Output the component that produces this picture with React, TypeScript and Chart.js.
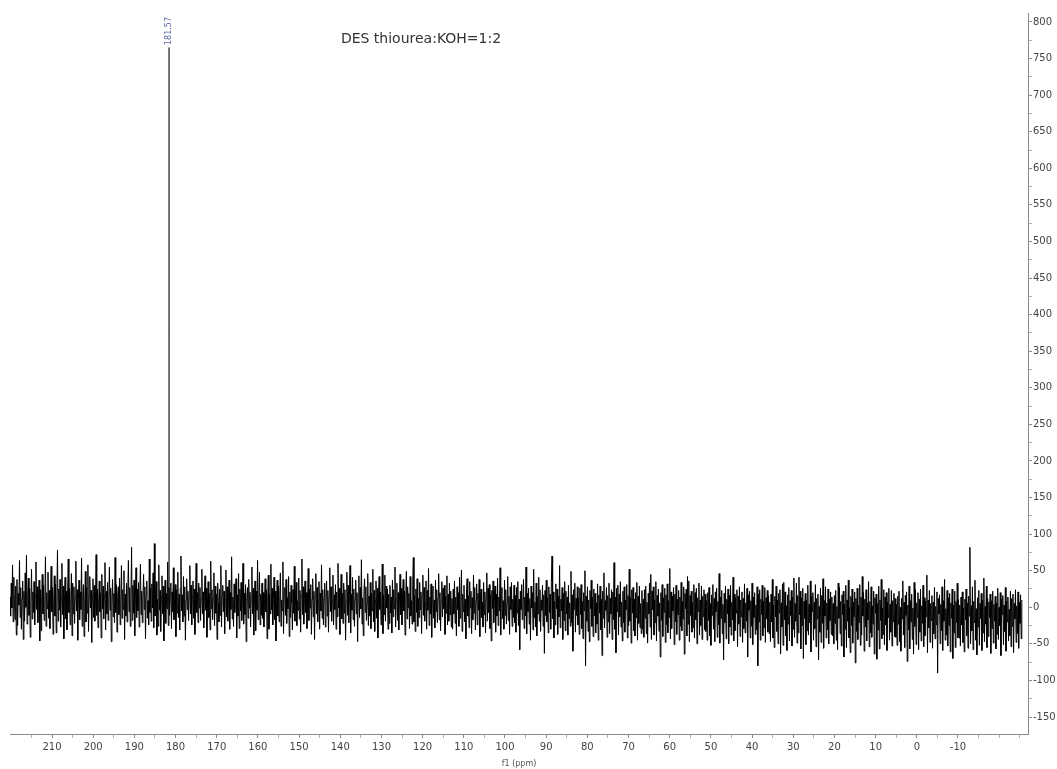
import React, { useEffect, useRef } from "react";
import { Chart, registerables } from "chart.js";

Chart.register(...registerables);

const s1 = [14,-12,33,-1,58,-20,41,6,-17,29,-38,38,-25,19,3,64,-14,27,-30,12,36,-44,22,-19,47,0,71,-23,16,40,-11,26,-41,9,52,-16,21,-7,35,-24,18,62,-3,28,-21,11,37,-46,24,-32,15,45,-9,30,-18,7,69,-26,20,-2,48,-15,23,-29,13,56,-6,27,-37,10,43,-12,32,-35,17,78,-19,25,-4,38,-27,14,60,-10,29,-43,8,41,-16,22,-31,19,66,-7,26,-24,12,46,-39,33];
const s2 = [-9,28,-22,15,63,-5,24,-45,11,37,-17,21,-3,67,-26,18,31,-40,6,49,-20,27,-8,58,-33,14,42,-1,23,-48,16,39,-14,30,-19,9,72,-11,25,-28,12,36,-6,20,-42,45,-2,29,-16,17,61,-31,22,-9,34,-18,13,55,-4,26,-47,10,38,-13,19,-21,68,-7,31,-34,15,28,-10,40,-24,8,57,-15,24,-3,50,-44,18,-12,33,-20,21,64,-6,27,-26,14,82,-18,30,-8,37,-39,11,54];
const s3 = [-14,25,-5,34,-27,18,59,-10,22,-21,13,45,-3,28,-43,16,36,-15,9,-24,66,-7,26,-19,32,-1,47,-28,87,-12,20,35,-38,11,-26,58,-4,23,-33,14,43,-9,29,-46,8,37,-22,19,-2,62,-25,27,-11,15,33,-29,21,-6,54,-17,12,31,-40,24,-8,48,-14,18,-31,26,70,-5,17,-20,42,-12,28,-45,10,39,-3,22,-18,14,57,-9,30,-24,16,36,-15,25,-37,11,60,-7,20,-21,33,-1];
const s4 = [27,-18,12,52,-9,21,-28,15,43,-4,26,-41,10,35,-14,19,-31,63,-2,24,-17,13,47,-25,29,-8,18,-44,33,6,-20,25,-11,57,-27,16,30,-6,22,-36,11,51,-13,28,-19,9,37,-30,20,-3,69,-16,14,-26,32,-7,23,39,-42,17,-12,46,-29,25,-5,34,-18,8,60,-23,19,-10,31,-47,13,27,-15,38,-1,21,-27,15,55,-9,26,-38,10,36,-32,22,-4,64,-17,12,48,-24,18,-11];
const s5 = [33,-15,20,-27,11,39,-6,24,-43,14,44,-30,18,-9,59,-3,26,-24,12,41,-17,22,-46,8,37,-12,29,-20,16,47,-26,10,-5,62,-36,19,27,-11,38,-22,13,-2,42,-40,21,-14,30,6,-31,24,-8,56,-19,15,34,-25,9,-4,40,-16,23,-34,17,66,-10,28,-23,12,36,-7,20,-29,14,53,-18,25,-1,31,-37,11,39,-13,22,-44,16,46,-9,27,-20,8,35,-30,19,-5,58,-15,24,-24,13,33];
const s6 = [-27,10,36,-12,23,-34,15,54,-6,28,-19,8,44,-24,17,-3,31,-30,21,-13,60,-1,26,-37,12,45,-16,19,-22,33,-8,24,-45,9,48,-11,30,-21,14,57,-35,18,-4,41,-17,25,-26,11,37,-9,20,-47,16,43,-14,27,-2,65,-23,13,-39,22,39,-7,28,-18,6,46,-25,15,-12,34,-29,19,-5,52,-20,23,-33,10,36,-15,26,-42,14,42,-3,21,-24,8,59,-36,17,-10,44,-19,29,-1,25,-30];
const s7 = [18,-22,30,-8,14,-35,37,-13,24,-2,55,-27,11,33,-18,20,-31,7,45,-10,26,-24,15,38,-5,22,-38,13,49,-16,28,-1,19,-29,42,-12,9,-23,31,68,-20,16,-33,25,-7,39,-26,12,-14,34,-3,21,-36,17,44,-11,27,-19,6,36,-30,23,-4,53,-25,14,-9,32,-41,19,29,-15,10,-28,37,-6,24,-21,13,46,-17,20,-32,8,35,-13,26,-2,30,-37,15,-8,43,-24,18,-19,33,-10,22,-27];
const s8 = [12,-30,25,-9,36,-22,14,-39,28,-3,20,-26,41,-15,8,51,-33,18,-6,30,-20,11,-43,24,39,-12,16,-28,35,-1,22,-36,13,-17,44,-8,27,-31,9,32,-24,19,-4,38,-40,15,25,-14,7,-27,34,-10,21,-35,12,47,-19,26,-7,31,-29,17,-46,23,-2,36,-21,10,29,-34,18,-12,40,-25,14,-5,54,-38,20,27,-16,9,-30,37,-11,24,-23,6,42,-18,15,-37,28,-3,34,-26,11,-14,30];
const s9 = [-21,16,-34,27,-8,35,-25,11,-58,22,-3,31,-17,9,38,-29,14,-12,55,-36,19,-6,26,-23,12,-45,29,-1,20,-31,52,-14,7,-27,33,-39,15,-9,41,-19,24,-33,10,-4,30,-26,17,-63,23,-11,37,-20,13,-35,28,-7,18,-30,34,70,-16,21,-42,8,-24,32,-2,25,-37,15,-13,57,-28,11,-5,27,-44,19,-18,35,-32,22,-9,14,-38,30,-15,6,-26,49,-21,17,-60,24,-3,33,-34,12,-11,28];
const s10 = [-24,13,-37,26,-10,31,-29,8,-43,20,-5,50,-80,15,-19,28,-33,10,-47,23,-2,37,-26,14,-40,25,-12,19,-35,6,-23,32,-45,17,-8,29,-31,11,-66,22,-15,47,-28,9,-4,27,-41,16,-20,33,-36,12,-9,24,-44,21,-17,61,-30,14,-62,26,-6,30,-38,18,-13,35,-27,7,-46,22,-21,28,-34,10,-3,31,-42,16,-25,52,-19,13,-49,24,-8,27,-32,11,-39,20,-14,34,-45,15,-22,29,-28,5,-36,23];
const s11 = [-30,11,-41,24,-15,29,-36,7,-49,19,-9,33,-27,45,-44,22,-3,28,-38,10,-21,35,-46,16,-12,25,-33,6,-68,20,-18,31,-40,13,-7,26,-48,17,-24,32,-35,9,-14,53,-43,21,-29,15,-5,27,-51,18,-20,30,-37,11,-10,23,-45,14,-26,34,-32,8,-16,28,-64,19,-2,25,-39,42,-23,36,-47,16,-11,22,-34,7,-28,31,-42,20,-17,26,-50,13,-6,33,-38,10,-25,29,-44,15,-13,24,-31,18];
const s12 = [-33,9,-45,20,-18,27,-39,5,-52,17,-11,31,-30,12,-47,21,-6,26,-41,8,-24,46,-49,14,-15,23,-36,4,-72,19,-21,29,-43,11,-9,25,-50,16,-27,30,-38,7,-17,41,-46,18,-32,13,-8,24,-54,15,-23,28,-40,10,-13,21,-48,12,-29,32,-35,6,-19,26,-68,17,-4,22,-42,9,-26,33,-51,14,-14,20,-37,3,-31,28,-80,18,-20,24,-45,11,-10,30,-39,8,-28,27,-48,13,-16,23,-34,16];
const s13 = [-36,7,-47,18,-20,38,-42,3,-55,15,-13,29,-33,10,-50,19,-8,24,-64,6,-27,32,-52,34,-17,21,-39,2,-59,17,-23,27,-46,9,-11,23,-53,14,-30,40,-41,5,-19,33,-49,16,-35,41,-10,22,-57,13,-25,26,-70,8,-15,19,-51,10,-32,30,-38,4,-21,36,-61,15,-6,20,-45,7,-29,31,-54,12,-16,18,-72,1,-34,26,-48,16,-22,39,-56,9,-12,28,-42,6,-31,25,-50,11,-18,21,-37,14];
const s14 = [-39,5,-50,16,-22,23,-45,1,-58,33,-15,27,-36,8,-53,17,-10,22,-68,4,-30,30,-55,10,-19,37,-42,0,-62,15,-25,25,-49,7,-13,21,-76,12,-33,26,-44,3,-21,31,-52,14,-38,42,-12,20,-60,11,-27,24,-46,6,-17,35,-54,8,-35,28,-41,2,-23,22,-64,13,-8,18,-71,5,-31,29,-57,10,-18,38,-43,-1,-37,24,-51,14,-24,20,-59,7,-14,26,-45,4,-34,23,-53,9,-20,19,-40,12];
const s15 = [-41,4,-52,15,-23,22,-47,0,-60,12,-16,36,-38,7,-55,16,-11,21,-74,3,-31,29,-57,9,-20,18,-44,-1,-64,34,-26,24,-51,6,-14,20,-58,11,-34,25,-46,2,-22,30,-54,13,-39,8,-13,44,-62,10,-28,23,-48,5,-18,16,-56,7,-36,27,-43,1,-24,21,-90,12,-9,17,-50,4,-32,28,-59,9,-19,38,-45,-2,-38,23,-53,13,-25,19,-61,6,-15,25,-70,3,-35,22,-55,8,-21,33,-42,11];
const s16 = [-42,3,-53,14,-24,21,-48,-1,-61,11,-17,25,-39,6,-56,15,-12,82,-50,2,-32,28,-58,8,-21,37,-45,-2,-65,13,-27,23,-52,5,-15,19,-59,10,-35,40,-47,1,-23,29,-55,12,-40,7,-14,18,-63,9,-29,22,-49,4,-19,15,-57,6,-37,26,-44,0,-25,20,-66,11,-10,16,-51,3,-33,27,-60,8,-20,14,-46,-3,-39,22,-54,12,-26,18,-62,5,-16,24,-48,2,-36,21,-56,7,-22,17,-43,10];

const spectrumStartPpm = 220.2;
const spectrumEndPpm = -25.5;

const peakPpm = [181.6, 181.57, 181.54];
const peakIntensity = [12, 765, 3];
const peakLabelPpm = [181.57];
const peakLabelText = ["181.57"];

const chartTitle = "DES thiourea:KOH=1:2";
const xAxisTitle = "f1 (ppm)";

const xMajorTicks = [210, 200, 190, 180, 170, 160, 150, 140, 130, 120, 110, 100, 90, 80, 70, 60, 50, 40, 30, 20, 10, 0, -10];
const xMinorTicks = [215, 205, 195, 185, 175, 165, 155, 145, 135, 125, 115, 105, 95, 85, 75, 65, 55, 45, 35, 25, 15, 5, -5, -15, -20, -25];
const yMajorTicks = [-150, -100, -50, 0, 50, 100, 150, 200, 250, 300, 350, 400, 450, 500, 550, 600, 650, 700, 750, 800];
const yMinorTicks = [-125, -75, -25, 25, 75, 125, 175, 225, 275, 325, 375, 425, 475, 525, 575, 625, 675, 725, 775];

export default function App() {
  const canvasRef = useRef<HTMLCanvasElement | null>(null);

  useEffect(() => {
    const canvas = canvasRef.current;
    if (!canvas) return;
    const noise = [...s1, ...s2, ...s3, ...s4, ...s5, ...s6, ...s7, ...s8, ...s9, ...s10, ...s11, ...s12, ...s13, ...s14, ...s15, ...s16];
    const step = (spectrumStartPpm - spectrumEndPpm) / (noise.length - 1);
    const noisePoints = noise.map((v, i) => ({ x: spectrumStartPpm - i * step, y: v }));
    const peakPoints = peakPpm.map((x, i) => ({ x, y: peakIntensity[i] }));

    const textPlugin = {
      id: "nmrText",
      afterDatasetsDraw(chart: any) {
        const ctx = chart.ctx;
        ctx.save();
        ctx.font = '14px "DejaVu Sans"';
        ctx.fillStyle = "#333";
        ctx.textAlign = "center";
        ctx.textBaseline = "middle";
        ctx.fillText(chartTitle, 421, 39);
        const xs = chart.scales.x;
        peakLabelPpm.forEach((p, i) => {
          const px = xs.getPixelForValue(p);
          ctx.save();
          ctx.translate(px, 31);
          ctx.rotate(-Math.PI / 2);
          ctx.font = '8px "DejaVu Sans"';
          ctx.fillStyle = "#5b6aa5";
          ctx.textAlign = "center";
          ctx.textBaseline = "middle";
          ctx.fillText(peakLabelText[i], 0, 0);
          ctx.restore();
        });
        ctx.restore();
      },
    };

    const chart = new Chart(canvas, {
      type: "line",
      data: {
        datasets: [
          {
            data: noisePoints,
            borderColor: "#000",
            borderWidth: 1,
            pointRadius: 0,
            tension: 0,
          },
          {
            data: peakPoints,
            borderColor: "#666",
            borderWidth: 1,
            pointRadius: 0,
            tension: 0,
          },
        ],
      },
      options: {
        animation: false,
        responsive: false,
        layout: { padding: { left: 10, top: 13, right: 0, bottom: 0 } },
        plugins: { legend: { display: false }, tooltip: { enabled: false }, title: { display: false } },
        scales: {
          x: {
            type: "linear",
            reverse: true,
            min: -27,
            max: 220.2,
            afterBuildTicks: (scale: any) => {
              scale.ticks = [...xMajorTicks, ...xMinorTicks].sort((a, b) => b - a).map((value) => ({ value }));
            },
            afterFit: (scale: any) => {
              scale.height = 35;
            },
            border: { display: true, color: "#8a8a8a", width: 1 },
            grid: {
              drawOnChartArea: false,
              drawTicks: true,
              tickLength: 4,
              tickColor: (c: any) => (xMajorTicks.includes(c.tick?.value) ? "#8a8a8a" : "#b0b0b0"),
            },
            ticks: {
              autoSkip: false,
              maxRotation: 0,
              padding: 3,
              color: "#444",
              font: { family: "DejaVu Sans", size: 10 },
              callback: (value: any) => (xMajorTicks.includes(value) ? String(value) : ""),
            },
            title: {
              display: true,
              text: xAxisTitle,
              color: "#555",
              font: { family: "DejaVu Sans", size: 8 },
              padding: { top: 0, bottom: 0 },
            },
          },
          y: {
            type: "linear",
            position: "right",
            min: -173.2,
            max: 812.3,
            afterBuildTicks: (scale: any) => {
              scale.ticks = [...yMajorTicks, ...yMinorTicks].sort((a, b) => a - b).map((value) => ({ value }));
            },
            afterFit: (scale: any) => {
              scale.width = 29;
            },
            border: { display: true, color: "#8a8a8a", width: 1 },
            grid: {
              drawOnChartArea: false,
              drawTicks: true,
              tickLength: 4,
              tickColor: (c: any) => (yMajorTicks.includes(c.tick?.value) ? "#8a8a8a" : "#b0b0b0"),
            },
            ticks: {
              autoSkip: false,
              padding: 1,
              color: "#444",
              font: { family: "DejaVu Sans", size: 10 },
              callback: (value: any) => (yMajorTicks.includes(value) ? String(value) : ""),
            },
          },
        },
      },
      plugins: [textPlugin],
    });

    return () => chart.destroy();
  }, []);

  return (
    <div style={{ position: "fixed", left: 0, top: 0, width: 1057, height: 769, background: "#fff" }}>
      <canvas ref={canvasRef} width={1057} height={769} style={{ width: 1057, height: 769, display: "block" }} />
    </div>
  );
}
